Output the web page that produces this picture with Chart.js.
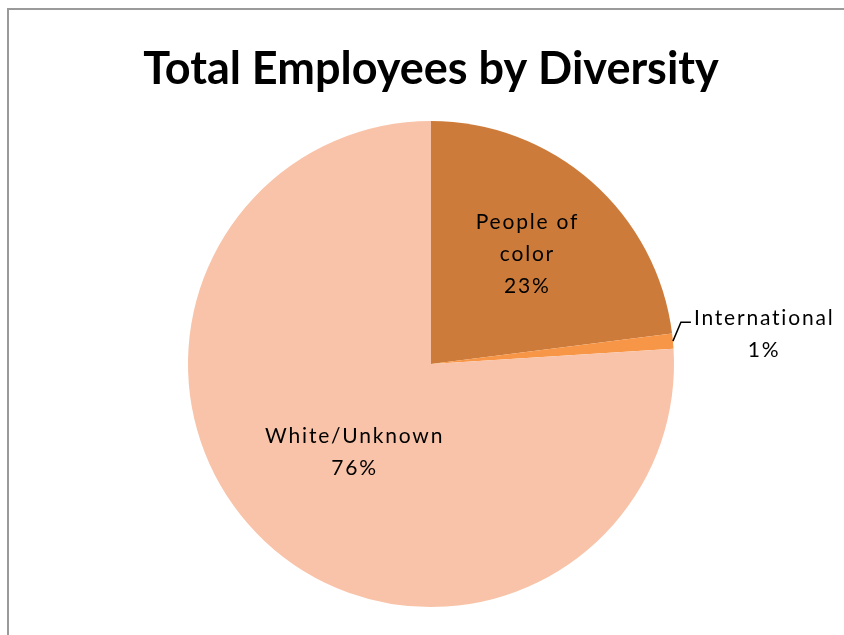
<!DOCTYPE html>
<html>
<head>
<meta charset="utf-8">
<script src="https://cdn.jsdelivr.net/npm/chart.js@4"></script>
<style>
    html, body { margin: 0; padding: 0; background: #fff; overflow: hidden; }
    canvas { display: block; }
</style>
</head>
<body>
<canvas id="chartDiversidad" width="844" height="635"></canvas>
<script>
/* ============================================================
   DATOS
============================================================ */
const categorias = ["People of color", "International", "White/Unknown"];
const valores = [23, 1, 76];
const etiquetas = [["People of", "color"], ["International"], ["White/Unknown"]];
const colores = ["#CD7B3A", "#F79646", "#F8C3A8"];

/* ============================================================
   PLUGIN: MARCO (solo arriba e izquierda, como el recorte)
============================================================ */
const marco = {
    id: "marco",
    beforeDraw(chart) {
        const ctx = chart.ctx;
        ctx.save();
        ctx.strokeStyle = "#9a9a9a";
        ctx.lineWidth = 2;
        ctx.beginPath();
        ctx.moveTo(8, chart.height);
        ctx.lineTo(8, 9);
        ctx.lineTo(chart.width, 9);
        ctx.stroke();
        ctx.restore();
    }
};

/* ============================================================
   PLUGIN: ETIQUETAS DE DATOS (estilo Excel)
============================================================ */
const etiquetasPie = {
    id: "etiquetasPie",
    afterDatasetsDraw(chart) {
        const ctx = chart.ctx;
        const meta = chart.getDatasetMeta(0);
        const total = valores.reduce((a, b) => a + b, 0);

        ctx.save();
        ctx.fillStyle = "#000";
        ctx.font = "21px Lato";
        ctx.letterSpacing = "1.8px";
        ctx.textBaseline = "middle";

        meta.data.forEach((arc, i) => {
            const p = arc.getProps(["x", "y", "startAngle", "endAngle", "outerRadius"], true);
            const mid = (p.startAngle + p.endAngle) / 2;
            const pct = Math.round(valores[i] / total * 100) + "%";
            const lineas = etiquetas[i].concat([pct]);
            const lh = 32;

            if (i === 1) {
                // etiqueta afuera con línea guía
                const ax = p.x + Math.cos(mid) * p.outerRadius;
                const ay = p.y + Math.sin(mid) * p.outerRadius;
                ctx.strokeStyle = "#000";
                ctx.lineWidth = 1.5;
                ctx.beginPath();
                ctx.moveTo(ax, ay);
                ctx.lineTo(ax + 8, ay - 19);
                ctx.lineTo(ax + 18, ay - 19);
                ctx.stroke();

                const w = ctx.measureText(lineas[0]).width;
                const cx = ax + 21 + w / 2;
                ctx.textAlign = "center";
                lineas.forEach((t, k) => ctx.fillText(t, cx, ay - 23 + k * lh));
                return;
            }

            const frac = i === 0 ? 0.6 : 0.48;
            const ang = i === 0 ? mid : mid - 0.04;
            const cx = p.x + Math.cos(ang) * p.outerRadius * frac;
            const cy = p.y + Math.sin(ang) * p.outerRadius * frac;
            const y0 = cy - (lineas.length - 1) * lh / 2;
            ctx.textAlign = "center";
            lineas.forEach((t, k) => ctx.fillText(t, cx, y0 + k * lh));
        });
        ctx.restore();
    }
};

/* ============================================================
   GRÁFICA: PIE
============================================================ */
new Chart(document.getElementById("chartDiversidad"), {
    type: "pie",
    data: {
        labels: categorias,
        datasets: [{
            data: valores,
            backgroundColor: colores,
            borderWidth: 0
        }]
    },
    options: {
        responsive: false,
        animation: false,
        layout: { padding: { left: 18, right: 0, top: 0, bottom: 28 } },
        plugins: {
            legend: { display: false },
            tooltip: { enabled: false },
            title: {
                display: true,
                text: "Total Employees by Diversity",
                color: "#000",
                font: { family: "Lato", size: 45, weight: "bold", lineHeight: 1.2 },
                padding: { top: 42, bottom: 25 }
            }
        }
    },
    plugins: [marco, etiquetasPie]
});
</script>
</body>
</html>
